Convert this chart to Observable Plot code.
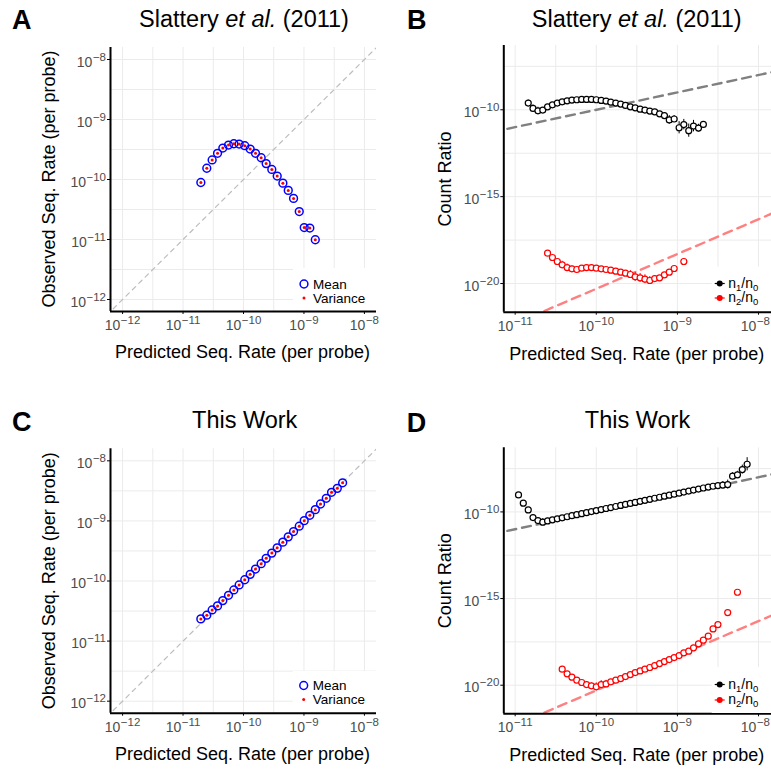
<!DOCTYPE html>
<html><head><meta charset="utf-8">
<script src="https://cdn.jsdelivr.net/npm/d3@7"></script>
<script src="https://cdn.jsdelivr.net/npm/@observablehq/plot@0.6"></script>
<style>
html,body{margin:0;padding:0;background:#fff;}
#fig{position:relative;width:771px;height:769px;overflow:hidden;background:#fff;}
#fig > svg{position:absolute;overflow:visible;}
</style></head><body><div id="fig"></div>
<script>
// ---------------- DATA ----------------
// Panel A: Slattery et al. (2011) — predicted vs observed sequencing rate
const predA = [1.97e-11, 2.47e-11, 3.03e-11, 3.72e-11, 4.55e-11, 5.65e-11, 6.92e-11, 8.47e-11, 1.05e-10, 1.29e-10, 1.58e-10, 1.96e-10, 2.37e-10, 2.94e-10, 3.61e-10, 4.48e-10, 5.50e-10, 6.73e-10, 8.36e-10, 1.01e-9, 1.25e-9, 1.54e-9];
const meanA = [8.91e-11, 1.54e-10, 2.12e-10, 2.73e-10, 3.34e-10, 3.75e-10, 3.94e-10, 3.90e-10, 3.66e-10, 3.22e-10, 2.73e-10, 2.31e-10, 1.84e-10, 1.47e-10, 1.14e-10, 8.69e-11, 6.58e-11, 4.84e-11, 2.92e-11, 1.58e-11, 1.55e-11, 9.9e-12];
const varianceA = [8.91e-11, 1.54e-10, 2.12e-10, 2.73e-10, 3.34e-10, 3.75e-10, 3.94e-10, 3.90e-10, 3.66e-10, 3.22e-10, 2.73e-10, 2.31e-10, 1.84e-10, 1.47e-10, 1.14e-10, 8.69e-11, 6.58e-11, 4.84e-11, 2.92e-11, 1.58e-11, 1.55e-11, 9.9e-12];

// Panel C: This Work
const predC = [1.97e-11, 2.47e-11, 3.03e-11, 3.72e-11, 4.55e-11, 5.65e-11, 6.92e-11, 8.47e-11, 1.05e-10, 1.29e-10, 1.58e-10, 1.96e-10, 2.37e-10, 2.94e-10, 3.61e-10, 4.48e-10, 5.50e-10, 6.73e-10, 8.36e-10, 1.01e-9, 1.25e-9, 1.54e-9, 1.88e-9, 2.34e-9, 2.86e-9, 3.56e-9, 4.36e-9];
const meanC = [2.34e-11, 2.70e-11, 3.30e-11, 3.85e-11, 4.72e-11, 5.78e-11, 7.10e-11, 8.59e-11, 1.05e-10, 1.29e-10, 1.58e-10, 1.94e-10, 2.38e-10, 2.91e-10, 3.56e-10, 4.43e-10, 5.43e-10, 6.65e-10, 8.17e-10, 1.01e-9, 1.24e-9, 1.54e-9, 1.91e-9, 2.38e-9, 2.99e-9, 3.48e-9, 4.31e-9];
const varianceC = [2.34e-11, 2.70e-11, 3.30e-11, 3.85e-11, 4.72e-11, 5.78e-11, 7.10e-11, 8.59e-11, 1.05e-10, 1.29e-10, 1.58e-10, 1.94e-10, 2.38e-10, 2.91e-10, 3.56e-10, 4.43e-10, 5.43e-10, 6.65e-10, 8.17e-10, 1.01e-9, 1.24e-9, 1.54e-9, 1.91e-9, 2.38e-9, 2.99e-9, 3.48e-9, 4.31e-9];

// Panel B: count ratios, Slattery et al. (2011)
const rateB1 = [1.45e-11, 1.66e-11, 1.91e-11, 2.19e-11, 2.51e-11, 2.88e-11, 3.31e-11, 3.80e-11, 4.37e-11, 5.01e-11, 5.75e-11, 6.61e-11, 7.59e-11, 8.71e-11, 1.00e-10, 1.15e-10, 1.32e-10, 1.51e-10, 1.74e-10, 2.00e-10, 2.29e-10, 2.63e-10, 3.02e-10, 3.47e-10, 3.98e-10, 4.57e-10, 5.25e-10, 6.03e-10, 6.92e-10, 7.94e-10, 9.12e-10, 1.05e-9, 1.20e-9, 1.38e-9, 1.58e-9, 1.82e-9, 2.09e-9];
const n1B = [2.42e-10, 1.19e-10, 8.75e-11, 9.57e-11, 1.49e-10, 1.94e-10, 2.42e-10, 2.89e-10, 3.30e-10, 3.61e-10, 3.77e-10, 3.94e-10, 3.94e-10, 3.94e-10, 3.77e-10, 3.44e-10, 3.16e-10, 2.76e-10, 2.42e-10, 2.12e-10, 1.78e-10, 1.49e-10, 1.30e-10, 1.09e-10, 9.57e-11, 8.38e-11, 7.59e-11, 5.89e-11, 4.62e-11, 2.60e-11, 2.95e-11, 9.23e-12, 1.40e-11, 6.31e-12, 1.15e-11, 8.81e-12, 1.43e-11];
const errB1 = [1.5, 1.6, 1.6, 1.4, 1.1, 1.1, 1.1, 1.1, 1.1, 1.1, 1.1, 1.1, 1.1, 1.1, 1.1, 1.1, 1.1, 1.1, 1.1, 1.1, 1.1, 1.1, 1.1, 1.1, 1.1, 1.1, 1.26, 1.32, 1.51, 1.78, 1.58, 2.24, 2.0, 2.4, 2.14, 1.66, 1.41];
const rateB2 = [2.51e-11, 2.88e-11, 3.31e-11, 3.80e-11, 4.37e-11, 5.01e-11, 5.75e-11, 6.61e-11, 7.59e-11, 8.71e-11, 1.00e-10, 1.15e-10, 1.32e-10, 1.51e-10, 1.74e-10, 2.00e-10, 2.29e-10, 2.63e-10, 3.02e-10, 3.47e-10, 3.98e-10, 4.57e-10, 5.25e-10, 6.03e-10, 6.92e-10, 7.94e-10, 9.12e-10, 1.20e-9];
const n2B = [5.58e-19, 3.14e-19, 1.85e-19, 1.19e-19, 8.34e-20, 7.00e-20, 6.40e-20, 7.64e-20, 8.34e-20, 8.34e-20, 7.64e-20, 7.00e-20, 6.40e-20, 5.86e-20, 5.13e-20, 4.50e-20, 3.94e-20, 3.30e-20, 2.42e-20, 2.12e-20, 1.78e-20, 1.49e-20, 1.94e-20, 2.12e-20, 3.16e-20, 4.50e-20, 7.31e-20, 1.85e-19];
const errB2 = [1.1, 1.1, 1.1, 1.6, 1.6, 1.5, 1.1, 1.1, 1.1, 1.1, 1.1, 1.1, 1.1, 1.1, 1.1, 1.1, 1.1, 1.7, 1.8, 1.8, 1.8, 1.7, 1.5, 1.1, 1.1, 1.1, 1.1, 1.1];

// Panel D: count ratios, This Work
const rateD1 = [1.10e-11, 1.26e-11, 1.45e-11, 1.66e-11, 1.91e-11, 2.19e-11, 2.51e-11, 2.88e-11, 3.31e-11, 3.80e-11, 4.37e-11, 5.01e-11, 5.75e-11, 6.61e-11, 7.59e-11, 8.71e-11, 1.00e-10, 1.15e-10, 1.32e-10, 1.51e-10, 1.74e-10, 2.00e-10, 2.29e-10, 2.63e-10, 3.02e-10, 3.47e-10, 3.98e-10, 4.57e-10, 5.25e-10, 6.03e-10, 6.92e-10, 7.94e-10, 9.12e-10, 1.05e-9, 1.20e-9, 1.38e-9, 1.58e-9, 1.82e-9, 2.09e-9, 2.40e-9, 2.75e-9, 3.16e-9, 3.63e-9, 4.17e-9, 4.79e-9, 5.50e-9, 6.31e-9, 7.24e-9];
const n1D = [9.62e-10, 3.18e-10, 1.31e-10, 4.73e-11, 3.18e-11, 2.55e-11, 3.04e-11, 3.48e-11, 4.00e-11, 4.58e-11, 5.25e-11, 6.03e-11, 6.90e-11, 7.91e-11, 9.06e-11, 1.04e-10, 1.19e-10, 1.36e-10, 1.57e-10, 1.79e-10, 2.06e-10, 2.36e-10, 2.70e-10, 3.10e-10, 3.55e-10, 4.07e-10, 4.67e-10, 5.35e-10, 6.14e-10, 7.03e-10, 8.05e-10, 9.23e-10, 1.06e-9, 1.21e-9, 1.39e-9, 1.60e-9, 1.83e-9, 2.09e-9, 2.40e-9, 2.72e-9, 3.02e-9, 3.31e-9, 3.55e-9, 3.80e-9, 1.15e-8, 1.38e-8, 2.79e-8, 5.62e-8];
const errD1 = [1.1, 1.1, 1.1, 1.1, 1.4, 1.6, 1.4, 1.1, 1.1, 1.1, 1.1, 1.1, 1.1, 1.1, 1.1, 1.1, 1.1, 1.1, 1.1, 1.1, 1.1, 1.1, 1.1, 1.1, 1.1, 1.1, 1.1, 1.1, 1.1, 1.1, 1.1, 1.1, 1.1, 1.1, 1.1, 1.1, 1.1, 1.1, 1.1, 1.1, 1.1, 1.4, 1.6, 1.8, 1.6, 1.6, 1.8, 2.4];
const rateD2 = [3.80e-11, 4.37e-11, 5.01e-11, 5.75e-11, 6.61e-11, 7.59e-11, 8.71e-11, 1.00e-10, 1.15e-10, 1.32e-10, 1.51e-10, 1.74e-10, 2.00e-10, 2.29e-10, 2.63e-10, 3.02e-10, 3.47e-10, 3.98e-10, 4.57e-10, 5.25e-10, 6.03e-10, 6.92e-10, 7.94e-10, 9.12e-10, 1.05e-9, 1.20e-9, 1.38e-9, 1.58e-9, 1.82e-9, 2.09e-9, 2.40e-9, 2.75e-9, 3.16e-9, 4.17e-9, 5.50e-9];
const n2D = [8.38e-20, 4.51e-20, 2.90e-20, 1.95e-20, 1.43e-20, 1.09e-20, 9.16e-21, 8.02e-21, 1.09e-20, 1.19e-20, 1.56e-20, 1.95e-20, 2.43e-20, 3.16e-20, 4.13e-20, 5.38e-20, 6.71e-20, 8.38e-20, 1.05e-19, 1.36e-19, 1.78e-19, 2.32e-19, 3.03e-19, 3.95e-19, 5.15e-19, 7.35e-19, 9.16e-19, 1.43e-18, 2.43e-18, 3.95e-18, 6.71e-18, 1.78e-17, 3.17e-17, 1.56e-16, 2.32e-15];
const errD2 = [1.1, 1.1, 1.1, 1.1, 1.1, 1.1, 1.5, 1.7, 1.7, 1.6, 1.4, 1.1, 1.1, 1.1, 1.1, 1.1, 1.1, 1.1, 1.1, 1.1, 1.1, 1.1, 1.1, 1.1, 1.1, 1.1, 1.1, 1.4, 1.4, 1.1, 1.1, 1.1, 1.1, 1.1, 1.1];

// Reference (theory) lines: y = x, n1/n0 = x, n2/n0 = x^2/2
const diagAC = [1e-13, 1e-7];
const refX = [1e-12, 1e-7];
const refN1 = [1e-12, 1e-7];
const refN2 = [5e-25, 5e-15];

// Ticks and grid breaks
const ticksAC = [1e-12, 1e-11, 1e-10, 1e-9, 1e-8];
const gridAC = [1e-12, 3.162e-12, 1e-11, 3.162e-11, 1e-10, 3.162e-10, 1e-9, 3.162e-9, 1e-8];
const ticksBDx = [1e-11, 1e-10, 1e-9, 1e-8];
const gridBDx = [1e-11, 3.162e-11, 1e-10, 3.162e-10, 1e-9, 3.162e-9, 1e-8];
const ticksBDy = [1e-20, 1e-15, 1e-10];
const gridBDy = [1e-20, 3.162e-18, 1e-15, 3.162e-13, 1e-10, 3.162e-8];

const domAC = [10 ** -12.2, 10 ** -7.8];
const domBDx = [10 ** -11.14, 10 ** -7.84];
const domBDy = [10 ** -21.65, 10 ** -6.3];

// ---------------- RENDER ----------------
const FONT = '"Liberation Sans", Arial, Helvetica, sans-serif';
const fig = document.getElementById('fig');
const fmt = d => "10^" + Math.round(Math.log10(d));

function supTicks(svg) {
  d3.select(svg).selectAll('text').each(function () {
    const m = /^10\^(-?\d+)$/.exec(this.textContent);
    if (!m) return;
    const isY = !!this.closest('[aria-label^="y-axis"]');
    const s = d3.select(this);
    s.text(null).attr('fill', '#4d4d4d').attr('font-family', FONT).attr('font-size', 14)
      .style('font-size', '14px').style('font-variant', 'normal').classed('tick10', true);
    s.append('tspan').text('10');
    s.append('tspan').attr('font-size', 11.5).style('font-size', '11.5px').attr('dx', 0.5).attr('dy', -6).text(m[1].replace('-', '\u2212'));
    if (isY) s.attr('y', 0).attr('dy', '0.5em');
  });
}

// keep tick labels inside the 771px window
function fitTicks(svg) {
  d3.select(svg).selectAll('text.tick10').each(function () {
    const r = this.getBoundingClientRect();
    if (r.right > 770) d3.select(this).attr('dx', -(r.right - 770));
  });
}

function makePanel(o) {
  const svg = Plot.plot({
    width: o.w, height: o.h,
    marginLeft: o.ml, marginRight: o.mr, marginTop: o.mt, marginBottom: o.mb,
    style: {fontFamily: FONT, fontSize: '14px', background: 'transparent', overflow: 'visible'},
    x: {type: 'log', domain: o.xd, ticks: o.xt, tickFormat: fmt, tickSize: 3, tickPadding: 5.5, label: null},
    y: {type: 'log', domain: o.yd, ticks: o.yt, tickFormat: fmt, tickSize: 3, tickPadding: 1.5, label: null},
    marks: [
      Plot.ruleX(o.xg, {stroke: '#ebebeb', strokeWidth: 1}),
      Plot.ruleY(o.yg, {stroke: '#ebebeb', strokeWidth: 1}),
      ...o.marks,
      Plot.ruleX([o.xd[0]], {stroke: '#000', strokeWidth: 2}),
      Plot.ruleY([o.yd[0]], {stroke: '#000', strokeWidth: 2})
    ]
  });
  svg.style.left = o.left + 'px';
  svg.style.top = o.top + 'px';
  supTicks(svg);
  fig.appendChild(svg);
  fitTicks(svg);
  return d3.select(svg);
}

function addText(sel, x, y, str, opt = {}) {
  const t = sel.append('text').attr('x', x).attr('y', y)
    .attr('font-family', FONT).attr('font-size', opt.size || 18)
    .attr('fill', opt.fill || '#000').attr('text-anchor', opt.anchor || 'start')
    .style('white-space', 'pre');
  if (opt.weight) t.attr('font-weight', opt.weight);
  if (opt.rotate) t.attr('transform', `rotate(-90 ${x} ${y})`);
  if (str != null) t.text(str);
  return t;
}

function slatteryTitle(sel, x, y) {
  const t = addText(sel, x, y, null, {size: 23.5, anchor: 'middle'});
  t.append('tspan').text('Slattery ');
  t.append('tspan').attr('font-style', 'italic').text('et al.');
  t.append('tspan').text(' (2011)');
}

function meanLegend(sel, x0, y0, w, h, r1, r2) {
  sel.append('rect').attr('x', x0).attr('y', y0).attr('width', w).attr('height', h).attr('fill', '#fff');
  sel.append('circle').attr('cx', x0 + 11).attr('cy', r1).attr('r', 3.9).attr('fill', 'none').attr('stroke', '#0000ff').attr('stroke-width', 1.5);
  sel.append('circle').attr('cx', x0 + 11).attr('cy', r2).attr('r', 1.5).attr('fill', '#ff0000');
  addText(sel, x0 + 20, r1 + 4.5, 'Mean', {size: 13.5});
  addText(sel, x0 + 20, r2 + 4.5, 'Variance', {size: 13.5});
}

function ratioLegend(sel, x0, y0, w, h, r1, r2) {
  sel.append('rect').attr('x', x0).attr('y', y0).attr('width', w).attr('height', h).attr('fill', '#fff');
  [[r1, '#000', '1'], [r2, '#ff0000', '2']].forEach(([ry, c, k]) => {
    sel.append('line').attr('x1', x0 + 3).attr('x2', x0 + 13).attr('y1', ry).attr('y2', ry).attr('stroke', c).attr('stroke-width', 1.2);
    sel.append('circle').attr('cx', x0 + 8).attr('cy', ry).attr('r', 3).attr('fill', c);
    const t = addText(sel, x0 + 16.5, ry + 4, null, {size: 14});
    t.append('tspan').text('n');
    t.append('tspan').attr('font-size', 9.5).attr('dy', 3).text(k);
    t.append('tspan').attr('dy', -3).text('/n');
    t.append('tspan').attr('font-size', 9.5).attr('dy', 3).text('0');
  });
}

const lo = (v, e) => v.map((d, i) => d / e[i]);
const hi = (v, e) => v.map((d, i) => d * e[i]);

// ---- Panel A ----
const A = makePanel({
  left: 0, top: 0, w: 390, h: 385, ml: 110, mr: 14, mt: 47, mb: 74,
  xd: domAC, yd: domAC, xt: ticksAC, yt: ticksAC, xg: gridAC, yg: gridAC,
  marks: [
    Plot.line(diagAC, {x: diagAC, y: diagAC, stroke: '#bdbdbd', strokeWidth: 1.2, strokeDasharray: '4.5,4.5', clip: true}),
    Plot.dot(meanA, {x: predA, y: meanA, r: 3.9, stroke: '#0000ff', strokeWidth: 1.5, fill: 'none'}),
    Plot.dot(varianceA, {x: predA, y: varianceA, r: 1.5, fill: '#ff0000', stroke: 'none'})
  ]
});
addText(A, 12, 29.3, 'A', {size: 27, weight: 'bold'});
slatteryTitle(A, 244, 26.5);
addText(A, 242.5, 358, 'Predicted Seq. Rate (per probe)', {anchor: 'middle'});
addText(A, 55, 179, 'Observed Seq. Rate (per probe)', {anchor: 'middle', rotate: true});
meanLegend(A, 293, 268, 83, 42, 284, 298);

// ---- Panel B ----
const B = makePanel({
  left: 390, top: 0, w: 381, h: 385, ml: 113.3, mr: 0, mt: 45, mb: 73.3,
  xd: domBDx, yd: domBDy, xt: ticksBDx, yt: ticksBDy, xg: gridBDx, yg: gridBDy,
  marks: [
    Plot.line(refX, {x: refX, y: refN1, stroke: '#808080', strokeWidth: 2.4, strokeDasharray: '9,6', clip: true}),
    Plot.line(refX, {x: refX, y: refN2, stroke: '#ff8080', strokeWidth: 2.4, strokeDasharray: '9,6', clip: true}),
    Plot.ruleX(n1B, {x: rateB1, y1: lo(n1B, errB1), y2: hi(n1B, errB1), stroke: '#000', strokeWidth: 1}),
    Plot.dot(n1B, {x: rateB1, y: n1B, r: 3.0, stroke: '#000', strokeWidth: 1.2, fill: '#fff'}),
    Plot.ruleX(n2B, {x: rateB2, y1: lo(n2B, errB2), y2: hi(n2B, errB2), stroke: '#ff0000', strokeWidth: 1}),
    Plot.dot(n2B, {x: rateB2, y: n2B, r: 3.0, stroke: '#ff0000', strokeWidth: 1.2, fill: '#fff'})
  ]
});
addText(B, 17, 29.3, 'B', {size: 27, weight: 'bold'});
slatteryTitle(B, 246.7, 26.5);
addText(B, 246.7, 360, 'Predicted Seq. Rate (per probe)', {anchor: 'middle'});
addText(B, 61, 179, 'Count Ratio', {anchor: 'middle', rotate: true});
ratioLegend(B, 321.7, 266.7, 60, 44, 283.5, 298);

// ---- Panel C ----
const C = makePanel({
  left: 0, top: 385, w: 390, h: 384, ml: 110, mr: 14, mt: 63.3, mb: 56.3,
  xd: domAC, yd: domAC, xt: ticksAC, yt: ticksAC, xg: gridAC, yg: gridAC,
  marks: [
    Plot.line(diagAC, {x: diagAC, y: diagAC, stroke: '#bdbdbd', strokeWidth: 1.2, strokeDasharray: '4.5,4.5', clip: true}),
    Plot.dot(meanC, {x: predC, y: meanC, r: 3.9, stroke: '#0000ff', strokeWidth: 1.5, fill: 'none'}),
    Plot.dot(varianceC, {x: predC, y: varianceC, r: 1.5, fill: '#ff0000', stroke: 'none'})
  ]
});
addText(C, 12, 45.7, 'C', {size: 27, weight: 'bold'});
addText(C, 244.7, 42.7, 'This Work', {size: 23.5, anchor: 'middle'});
addText(C, 242.5, 375, 'Predicted Seq. Rate (per probe)', {anchor: 'middle'});
addText(C, 55, 195.8, 'Observed Seq. Rate (per probe)', {anchor: 'middle', rotate: true});
meanLegend(C, 292.7, 286, 83.3, 41, 300.5, 314.5);

// ---- Panel D ----
const D = makePanel({
  left: 390, top: 385, w: 381, h: 384, ml: 113.3, mr: 0, mt: 62.3, mb: 55.7,
  xd: domBDx, yd: domBDy, xt: ticksBDx, yt: ticksBDy, xg: gridBDx, yg: gridBDy,
  marks: [
    Plot.line(refX, {x: refX, y: refN1, stroke: '#808080', strokeWidth: 2.4, strokeDasharray: '9,6', clip: true}),
    Plot.line(refX, {x: refX, y: refN2, stroke: '#ff8080', strokeWidth: 2.4, strokeDasharray: '9,6', clip: true}),
    Plot.ruleX(n1D, {x: rateD1, y1: lo(n1D, errD1), y2: hi(n1D, errD1), stroke: '#000', strokeWidth: 1}),
    Plot.dot(n1D, {x: rateD1, y: n1D, r: 3.0, stroke: '#000', strokeWidth: 1.2, fill: '#fff'}),
    Plot.ruleX(n2D, {x: rateD2, y1: lo(n2D, errD2), y2: hi(n2D, errD2), stroke: '#ff0000', strokeWidth: 1}),
    Plot.dot(n2D, {x: rateD2, y: n2D, r: 3.0, stroke: '#ff0000', strokeWidth: 1.2, fill: '#fff'})
  ]
});
addText(D, 16.7, 46.7, 'D', {size: 27, weight: 'bold'});
addText(D, 247.5, 42.7, 'This Work', {size: 23.5, anchor: 'middle'});
addText(D, 246.7, 376, 'Predicted Seq. Rate (per probe)', {anchor: 'middle'});
addText(D, 61, 195.8, 'Count Ratio', {anchor: 'middle', rotate: true});
ratioLegend(D, 321.7, 282, 60, 46, 299.5, 315);
</script>
</body></html>
